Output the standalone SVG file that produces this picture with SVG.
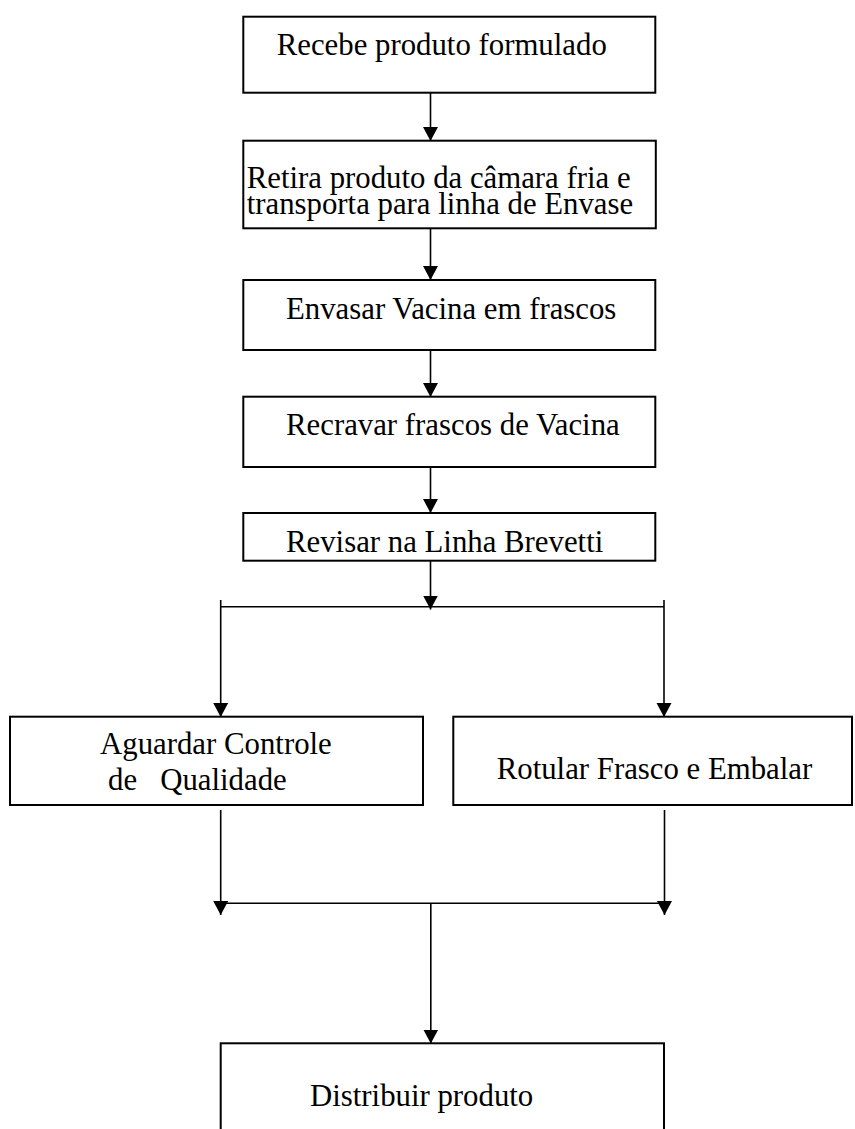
<svg xmlns="http://www.w3.org/2000/svg" width="855" height="1129" viewBox="0 0 855 1129">
<style>
.box{fill:#fff;stroke:#000;stroke-width:2}
.lbl{font-family:"Liberation Serif","Times New Roman",serif;font-size:30.8px;fill:#000}
.con{fill:none;stroke:#000;stroke-width:1.6}
</style>
<defs>
<marker id="ah" markerUnits="userSpaceOnUse" markerWidth="16" markerHeight="16" viewBox="0 0 16 16" refX="8" refY="14" orient="auto-start-reverse">
<path d="M1,0 L15,0 L8,14 Z" fill="#000" transform="rotate(-90 8 8)"/>
</marker>
<marker id="dn" markerUnits="userSpaceOnUse" markerWidth="16" markerHeight="16" viewBox="0 0 16 16" refX="8" refY="14" orient="0">
<path d="M0.5,0 L15.5,0 L8,14 Z" fill="#000"/>
</marker>
</defs>
<rect width="855" height="1129" fill="#fff"/>
<g id="connectors">
<line class="con" x1="430.5" y1="93" x2="430.5" y2="141" marker-end="url(#dn)"/>
<line class="con" x1="430.5" y1="228" x2="430.5" y2="280" marker-end="url(#dn)"/>
<line class="con" x1="430.5" y1="350" x2="430.5" y2="397" marker-end="url(#dn)"/>
<line class="con" x1="430.5" y1="467" x2="430.5" y2="513" marker-end="url(#dn)"/>
<line class="con" x1="430.5" y1="561" x2="430.5" y2="609.5" marker-end="url(#dn)"/>
<line class="con" x1="220.7" y1="606.7" x2="664" y2="606.7"/>
<line class="con" x1="220.7" y1="600" x2="220.7" y2="717" marker-end="url(#dn)"/>
<line class="con" x1="664" y1="600" x2="664" y2="717" marker-end="url(#dn)"/>
<line class="con" x1="220.7" y1="810" x2="220.7" y2="915" marker-end="url(#dn)"/>
<line class="con" x1="664.5" y1="810" x2="664.5" y2="915" marker-end="url(#dn)"/>
<line class="con" x1="220.7" y1="903.3" x2="664.5" y2="903.3"/>
<line class="con" x1="430.8" y1="903.3" x2="430.8" y2="1043.5" marker-end="url(#dn)"/>
</g>
<g id="n1">
<rect class="box" x="243.3" y="16.7" width="412" height="76"/>
<text class="lbl" x="276.7" y="55">Recebe produto formulado</text>
</g>
<g id="n2">
<rect class="box" x="243.3" y="140.7" width="412.5" height="87.6"/>
<text class="lbl" x="246.7" y="187.8">Retira produto da câmara fria e</text>
<text class="lbl" x="246.7" y="213.5">transporta para linha de Envase</text>
</g>
<g id="n3">
<rect class="box" x="243.3" y="280" width="412" height="70"/>
<text class="lbl" x="286" y="318.5">Envasar Vacina em frascos</text>
</g>
<g id="n4">
<rect class="box" x="243.3" y="396.7" width="412" height="70.3"/>
<text class="lbl" x="286" y="435">Recravar frascos de Vacina</text>
</g>
<g id="n5">
<rect class="box" x="243.3" y="513" width="412" height="47.7"/>
<text class="lbl" x="286" y="551.7">Revisar na Linha Brevetti</text>
</g>
<g id="n6">
<rect class="box" x="10" y="716.7" width="413" height="88.3"/>
<text class="lbl" x="100" y="754">Aguardar Controle</text>
<text class="lbl" x="108" y="790" xml:space="preserve">de   Qualidade</text>
</g>
<g id="n7">
<rect class="box" x="453.3" y="716.7" width="398.7" height="88.3"/>
<text class="lbl" x="496.7" y="779">Rotular Frasco e Embalar</text>
</g>
<g id="n8">
<rect class="box" x="220.7" y="1043.3" width="443.3" height="100"/>
<text class="lbl" x="310" y="1106">Distribuir produto</text>
</g>
</svg>
